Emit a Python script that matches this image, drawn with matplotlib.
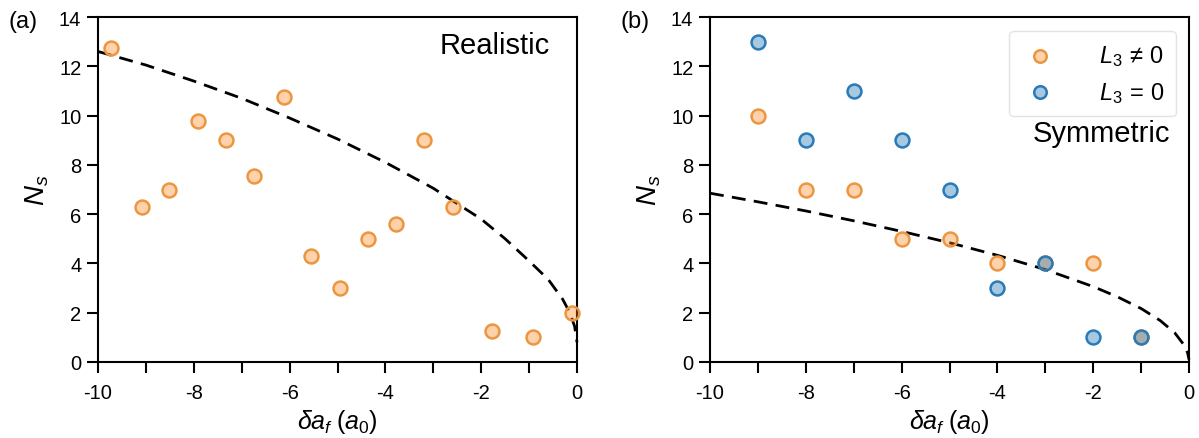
import matplotlib
matplotlib.use("Agg")
import matplotlib.pyplot as plt

plt.rcParams['font.family'] = ['Liberation Sans', 'DejaVu Sans']
plt.rcParams['mathtext.fontset'] = 'custom'
plt.rcParams['mathtext.rm'] = 'Liberation Sans'
plt.rcParams['mathtext.it'] = 'Liberation Sans:italic'
plt.rcParams['mathtext.cal'] = 'Liberation Sans:italic'

# ---------------- data ----------------
# panel (a): realistic
real_x = [-9.72, -9.08, -8.52, -7.92, -7.33, -6.74, -6.12, -5.55, -4.95, -4.36, -3.78, -3.19, -2.59, -1.77, -0.92, -0.1]
real_y = [12.75, 6.3, 7.0, 9.8, 9.0, 7.55, 10.75, 4.3, 3.0, 5.0, 5.6, 9.0, 6.3, 1.25, 1.0, 2.0]
real_fit_x = [-10, -9, -8, -7, -6, -5, -4, -3, -2, -1.5, -1, -0.6, -0.3, -0.15, -0.05, 0]
real_fit_y = [12.6, 12.05, 11.4, 10.7, 9.9, 9.05, 8.1, 7.05, 5.8, 5.0, 4.1, 3.35, 2.55, 2.0, 1.45, 0.8]

# panel (b): symmetric
sym_l3nz_x = [-9, -8, -7, -6, -5, -4, -3, -2, -1]
sym_l3nz_y = [10, 7, 7, 5, 5, 4, 4, 4, 1]
sym_l30_x = [-9, -8, -7, -6, -5, -4, -3, -2, -1]
sym_l30_y = [13, 9, 11, 9, 7, 3, 4, 1, 1]
sym_fit_x = [-10, -9, -8, -7, -6, -5, -4, -3, -2, -1.5, -1, -0.6, -0.3, -0.1, -0.03, 0]
sym_fit_y = [6.85, 6.5, 6.13, 5.73, 5.3, 4.84, 4.33, 3.75, 3.06, 2.65, 2.17, 1.68, 1.19, 0.68, 0.38, 0.1]

xticks = list(range(-10, 1))
xticklabels = [str(t) if t % 2 == 0 else '' for t in xticks]
yticks = list(range(0, 15, 2))

# ---------------- styles ----------------
orange_face = (1.0, 0.5, 0.06, 0.35)
orange_edge = '#eb9640'
blue_face = (0.12, 0.47, 0.71, 0.4)
blue_edge = '#2a7ab8'

fig = plt.figure(figsize=(11.99, 4.39), dpi=100)
W, H = 1199, 439
axa = fig.add_axes([98 / W, (H - 363) / H, 479 / W, 345 / H])
axb = fig.add_axes([710 / W, (H - 363) / H, 479 / W, 345 / H])

for ax in (axa, axb):
    ax.set_xlim(-10, 0)
    ax.set_ylim(0, 14)
    ax.set_xticks(xticks)
    ax.set_xticklabels(xticklabels)
    ax.set_yticks(yticks)
    ax.set_yticklabels([str(t) for t in yticks])
    ax.tick_params(direction='out', length=8, width=1.5, labelsize=14.5)
    ax.tick_params(axis='x', pad=7)
    ax.tick_params(axis='y', pad=4)
    for s in ax.spines.values():
        s.set_linewidth(1.5)
    ax.set_xlabel(r'$\delta a_f\;(a_0)$', fontsize=18, labelpad=4)
    ax.set_ylabel(r'$N_s$', fontsize=20, labelpad=6)

# panel a
axa.plot(real_fit_x, real_fit_y, ls=(0, (5, 3)), color='black', lw=2, clip_on=False, zorder=2)
axa.scatter(real_x, real_y, s=100, facecolor=orange_face, edgecolor=orange_edge,
            linewidths=1.8, zorder=3, clip_on=False)
axa.text(0.943, 0.92, 'Realistic', transform=axa.transAxes, ha='right', va='center', fontsize=21)
fig.text(8 / W, 1 - 22 / H, '(a)', fontsize=17, ha='left', va='center')

# panel b
axb.plot(sym_fit_x, sym_fit_y, ls=(0, (5, 3)), color='black', lw=2, clip_on=False, zorder=2)
axb.scatter(sym_l3nz_x, sym_l3nz_y, s=100, facecolor=orange_face, edgecolor=orange_edge,
            linewidths=1.8, zorder=3, clip_on=False, label=r'$L_3\,\neq\,0$')
axb.scatter(sym_l30_x, sym_l30_y, s=100, facecolor=blue_face, edgecolor=blue_edge,
            linewidths=1.8, zorder=4, clip_on=False, label=r'$L_3\,=\,0$')
leg = axb.legend(loc='upper right', fontsize=17, frameon=True, handletextpad=1.7,
                 borderpad=0.5, labelspacing=0.5, borderaxespad=0, handlelength=1.6,
                 bbox_to_anchor=(0.973, 0.959), markerscale=0.9)
leg.get_frame().set_edgecolor('#dddddd')
leg.get_frame().set_linewidth(1.0)
axb.text(0.96, 0.665, 'Symmetric', transform=axb.transAxes, ha='right', va='center', fontsize=21)
fig.text(620 / W, 1 - 22 / H, '(b)', fontsize=17, ha='left', va='center')

fig.savefig('out.png', dpi=100)
